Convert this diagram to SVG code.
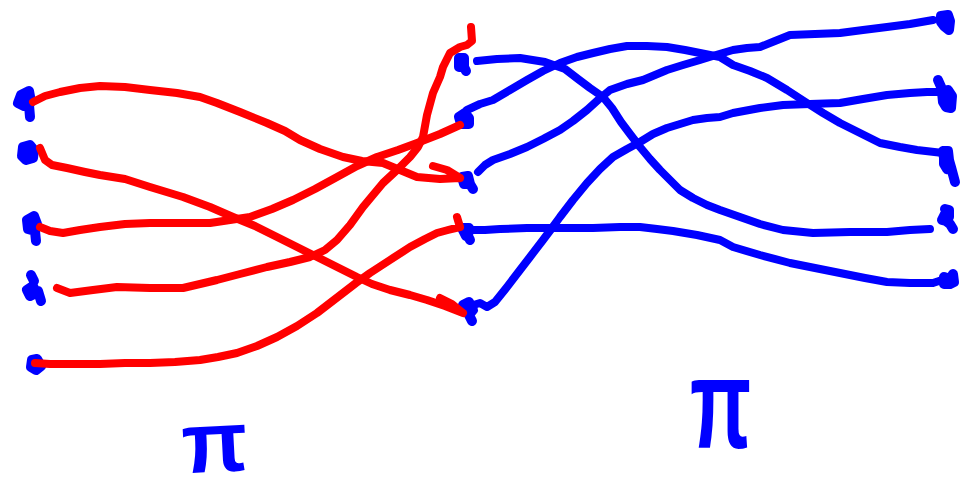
<svg xmlns="http://www.w3.org/2000/svg" width="968" height="491" viewBox="0 0 968 491">
  <style>
    .red { fill: none; stroke: #ff0000; stroke-width: 8; stroke-linecap: round; stroke-linejoin: round; }
    .blue { fill: none; stroke: #0000ff; stroke-width: 8; stroke-linecap: round; stroke-linejoin: round; }
    .dot { fill: #0000ff; stroke: #0000ff; stroke-width: 10; stroke-linecap: round; stroke-linejoin: round; }
    .pi { fill: #0000ff; font-family: "Liberation Sans", "DejaVu Sans", sans-serif; font-weight: bold; }
  </style>
  <rect width="968" height="491" fill="#ffffff"/>

  <!-- left column points -->
  <g id="L1"><path class="dot" d="M21 95 L29 91 L31 102 L24 106 L18 103 Z M29 105 L30 117"/></g>
  <g id="L2"><path class="dot" d="M23 147 L30 145 L34 150 L33 158 L26 160 L22 156 Z"/></g>
  <g id="L3"><path class="dot" d="M27 220 L34 216 L37 224 L35 231 L28 229 Z M35 231 L36 241"/></g>
  <g id="L4"><path class="dot" d="M31 275 L34 281 M27 290 L33 286 L36 293 L30 296 Z M38 291 L41 301"/></g>
  <g id="L5"><path class="dot" d="M32 360 L37 359 L41 366 L36 370 L31 367 Z"/></g>

  <!-- middle column points -->
  <g id="M1"><path class="dot" d="M459 58 L464 58 L464 67 L459 67 Z M464 67 L466 71"/></g>
  <g id="M2"><path class="dot" d="M459 117 L465 113 L469 118 L469 124 L461 124 Z"/></g>
  <g id="M3"><path class="dot" d="M462 177 L468 176 L470 184 L473 189 M462 177 L464 184 L470 184"/></g>
  <g id="M4"><path class="dot" d="M462 228 L469 228 L468 236 L470 240 M462 228 L466 236"/></g>
  <g id="M5"><path class="dot" d="M463 305 L469 302 L473 310 L469 315 L472 321 M463 305 L466 312 L473 310"/></g>

  <!-- right column points -->
  <g id="R1"><path class="dot" d="M941 16 L948 15 L950 21 L949 30 L944 26 L941 22 Z"/></g>
  <g id="R2"><path class="dot" d="M938 80 L942 89 M942 92 L948 90 L952 96 L951 108 L946 107 L943 102 Z"/></g>
  <g id="R3"><path class="dot" d="M943 151 L948 151 L949 160 L951 167 L947 169 L944 164 L944 158 Z M951 167 L955 182"/></g>
  <g id="R4"><path class="dot" d="M945 209 L949 210 L949 217 L946 221 L950 224 L953 229 M946 221 L942 220 L945 214 Z"/></g>
  <g id="R5"><path class="dot" d="M944 277 L950 279 L953 274 L954 282 L950 284 L944 284 Z"/></g>

  <!-- connectors -->
  <g id="connectors">
    <!-- red: left to middle -->
    <path class="red" d="M33 102 L45 96 L60 92 L80 88 L100 86 L125 87 L150 90 L177 93 L200 97 L217 103 L240 112 L267 123 L285 131 L300 140 L320 149 L343 157 L362 161 L383 163 L400 170 L417 177 L440 179 L460 178 M433 166 L447 170 L460 178"/>
    <path class="red" d="M40 148 L45 160 L52 165 L67 168 L85 172 L100 175 L125 179 L150 187 L183 197 L210 207 L233 217 L255 226 L277 237 L297 247 L317 257 L337 267 L357 277 L372 284 L390 290 L410 295 L427 300 L445 306 L463 313 M440 298 L452 304 L463 313"/>
    <path class="red" d="M40 227 L50 231 L63 233 L80 230 L100 227 L125 224 L150 223 L180 223 L210 223 L230 220 L250 217 L272 209 L293 200 L315 189 L337 177 L357 166 L377 157 L398 150 L417 143 L440 134 L460 125"/>
    <path class="red" d="M57 288 L70 293 L93 290 L117 287 L150 288 L183 288 L200 284 L217 280 L240 274 L267 267 L290 262 L310 257 L325 250 L337 240 L350 225 L363 207 L373 195 L383 183 L397 170 L410 157 L418 147 L423 137 L427 115 L433 93 L440 77 L443 67 L450 53 L460 47 L467 45 L472 41 L471 27"/>
    <path class="red" d="M35 363 L50 364 L75 364 L100 364 L125 363 L150 363 L175 362 L200 360 L218 357 L237 353 L257 346 L277 337 L297 326 L317 313 L330 303 L343 293 L356 283 L370 273 L390 260 L410 247 L425 239 L437 233 L448 230 L460 227 L457 217"/>

    <!-- blue: middle to right -->
    <path class="blue" d="M477 61 L497 59 L520 58 L545 62 L565 69 L578 79 L590 88 L603 97 L612 108 L621 122 L630 134 L640 147 L650 159 L660 170 L670 180 L680 190 L693 198 L707 205 L720 210 L740 217 L760 224 L783 230 L813 233 L850 232 L887 232 L910 230 L930 229"/>
    <path class="blue" d="M467 110 L480 104 L493 100 L510 90 L527 80 L543 71 L560 63 L577 57 L593 53 L610 49 L627 46 L647 46 L667 47 L685 50 L700 53 L720 57 L733 65 L750 71 L767 78 L787 90 L807 103 L823 113 L840 123 L860 133 L880 143 L900 147 L917 150 L943 153"/>
    <path class="blue" d="M478 172 L485 165 L493 160 L510 154 L527 147 L543 139 L560 130 L573 121 L587 110 L598 100 L610 90 L627 84 L643 80 L655 75 L667 70 L683 65 L700 60 L716 55 L733 50 L747 48 L760 47 L775 41 L790 35 L815 34 L840 33 L863 30 L887 27 L910 24 L933 20"/>
    <path class="blue" d="M470 230 L485 230 L500 229 L527 228 L560 228 L593 228 L620 227 L640 227 L657 229 L673 231 L697 235 L720 240 L733 247 L760 255 L790 263 L815 268 L840 273 L865 278 L887 282 L910 283 L933 283 L948 278"/>
    <path class="blue" d="M470 306 L480 303 L487 307 L495 302 L507 287 L520 270 L530 257 L543 240 L552 228 L560 217 L573 200 L587 183 L600 169 L613 157 L627 149 L640 142 L653 134 L667 128 L680 124 L693 120 L707 118 L720 117 L733 113 L760 108 L783 105 L810 104 L840 103 L863 99 L887 95 L910 93 L927 92 L947 92"/>
  </g>

  <!-- labels -->
  <text class="pi" x="182" y="472" font-size="86" transform="rotate(-3 210 450)">π</text>
  <text class="pi" x="690" y="448" font-size="80" transform="translate(690 448) scale(1 1.6) translate(-690 -448)">π</text>
</svg>
